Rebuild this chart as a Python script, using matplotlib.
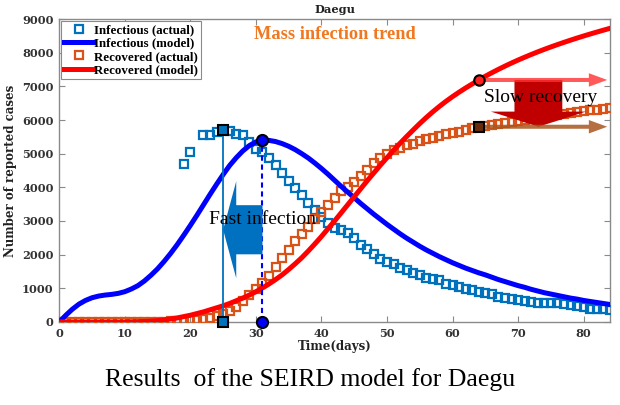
import matplotlib
matplotlib.use("Agg")
import matplotlib.pyplot as plt
import numpy as np
from matplotlib.patches import FancyArrow

# ---------------- data ----------------
days_model = list(range(0, 85))
infectious_model = [0, 200, 380, 530, 640, 720, 770, 800, 820, 850,
                    900, 980, 1080, 1220, 1390, 1580, 1800, 2040, 2300, 2580,
                    2870, 3170, 3480, 3790, 4090, 4380, 4650, 4880, 5080, 5240,
                    5350, 5400, 5395, 5360, 5300, 5220, 5120, 5000, 4870, 4720,
                    4560, 4390, 4210, 4030, 3860, 3690, 3520, 3360, 3200, 3050,
                    2900, 2760, 2620, 2490, 2370, 2250, 2140, 2040, 1940, 1850,
                    1760, 1680, 1600, 1530, 1460, 1400, 1330, 1260, 1200, 1140,
                    1080, 1030, 970, 920, 870, 830, 790, 750, 710, 680,
                    640, 610, 580, 550, 520]
recovered_model = [0, 0, 0, 0, 0, 0, 0, 0, 0, 0,
                   0, 5, 10, 15, 25, 40, 60, 90, 120, 160,
                   200, 250, 300, 360, 420, 480, 550, 630, 710, 800,
                   900, 1010, 1130, 1260, 1400, 1560, 1730, 1910, 2110, 2320,
                   2540, 2770, 3000, 3240, 3480, 3720, 3960, 4200, 4430, 4660,
                   4880, 5100, 5310, 5510, 5705, 5895, 6075, 6245, 6405, 6555,
                   6695, 6827, 6952, 7070, 7190, 7300, 7405, 7505, 7601, 7693,
                   7781, 7865, 7946, 8024, 8099, 8171, 8240, 8307, 8372, 8435,
                   8496, 8555, 8612, 8668, 8723]

days_inf_actual = [19, 20] + list(range(22, 85))
infectious_actual = [4680, 5060, 5540, 5550, 5650, 5700, 5660, 5590, 5550, 5360,
                     5130, 5060, 4860, 4660, 4440, 4200, 3980, 3760, 3540, 3330,
                     3120, 2930, 2780, 2720, 2630, 2480, 2290, 2180, 2030, 1860,
                     1780, 1730, 1600, 1540, 1460, 1390, 1320, 1290, 1240, 1140,
                     1090, 1040, 970, 940, 890, 850, 820, 750, 700, 670,
                     650, 620, 600, 550, 560, 550, 550, 530, 500, 470,
                     450, 400, 400, 400, 370]

days_rec_actual = list(range(0, 85))
recovered_actual = [0, 0, 0, 0, 0, 0, 0, 0, 0, 0,
                    0, 0, 0, 0, 0, 0, 0, 20, 30, 40,
                    50, 60, 80, 120, 170, 240, 330, 450, 620, 800,
                    980, 1150, 1380, 1620, 1900, 2150, 2400, 2620, 2820, 3050,
                    3280, 3480, 3680, 3880, 4020, 4160, 4330, 4510, 4720, 4880,
                    5000, 5100, 5180, 5250, 5300, 5370, 5430, 5470, 5520, 5570,
                    5610, 5650, 5700, 5750, 5800, 5830, 5860, 5890, 5920, 5950,
                    5980, 6010, 6040, 6070, 6100, 6130, 6160, 6190, 6210, 6240,
                    6260, 6290, 6310, 6330, 6350]

mark_day = 64
x_ticks = list(range(0, 81, 10))
y_ticks = list(range(0, 9001, 1000))

# ---------------- style ----------------
C_BLUE_ACT = "#0072BD"
C_ORANGE_ACT = "#D95319"
C_BLUE_MOD = "#0000FF"
C_RED_MOD = "#FF0000"
TICK_FONT = "DejaVu Serif"
TEXT_FONT = "Liberation Serif"

fig = plt.figure(figsize=(6.2, 4.05), dpi=100)
ax = fig.add_axes([0.0956, 0.205, 0.888, 0.748])

l1, = ax.plot(days_inf_actual, infectious_actual, ls="none", marker="s", ms=6.3,
              mfc="none", mec=C_BLUE_ACT, mew=1.6, label="Infectious (actual)", zorder=3)
l2, = ax.plot(days_model, infectious_model, color=C_BLUE_MOD, lw=3.6,
              label="Infectious (model)", zorder=4)
l3, = ax.plot(days_rec_actual, recovered_actual, ls="none", marker="s", ms=6.3,
              mfc="none", mec=C_ORANGE_ACT, mew=1.6, label="Recovered (actual)", zorder=3)
l4, = ax.plot(days_model, recovered_model, color=C_RED_MOD, lw=3.6,
              label="Recovered (model)", zorder=4)

# peak markers
ia = np.array(infectious_actual)
pk_a = int(np.argmax(ia))
pk_a_day, pk_a_val = days_inf_actual[pk_a], ia[pk_a]
im = np.array(infectious_model)
pk_m = int(np.argmax(im))
pk_m_day, pk_m_val = days_model[pk_m], im[pk_m]

ax.plot([pk_a_day, pk_a_day], [0, pk_a_val], color=C_BLUE_ACT, lw=1.3, zorder=5)
ax.plot([pk_m_day, pk_m_day], [0, pk_m_val], color=C_BLUE_MOD, lw=1.5,
        ls=(0, (2.5, 1.8)), zorder=5)
ax.plot([pk_a_day, pk_a_day], [pk_a_val, 0], ls="none", marker="s", ms=7,
        mfc=C_BLUE_ACT, mec="black", mew=1.5, zorder=8, clip_on=False)
ax.plot([pk_m_day, pk_m_day], [pk_m_val, 0], ls="none", marker="o", ms=8,
        mfc=C_BLUE_MOD, mec="black", mew=1.5, zorder=8, clip_on=False)

# fast infection arrow (left)
ymid = 2740
ax.add_patch(FancyArrow(pk_m_day, ymid, -(pk_m_day - pk_a_day), 0, width=1460,
                        head_width=2880, head_length=2.0, length_includes_head=True,
                        color="#0070C0", lw=0, zorder=6))
ax.text(pk_m_day, 3050, "Fast infection", family=TEXT_FONT, fontsize=14,
        ha="center", va="center", color="black", zorder=9)

# slow recovery arrows
rv = recovered_model[mark_day]
ra = recovered_actual[mark_day]
ax.add_patch(FancyArrow(73.1, 7190, 0, -(7190 - 5800), width=7.3, head_width=14.5,
                        head_length=450, length_includes_head=True,
                        color="#C00000", lw=0, zorder=6))
ax.add_patch(FancyArrow(mark_day + 0.5, rv, 83.6 - mark_day - 0.5, 0, width=120,
                        head_width=400, head_length=2.8, length_includes_head=True,
                        color="#FF3030", alpha=0.8, lw=0, zorder=7))
ax.add_patch(FancyArrow(mark_day + 0.5, ra, 83.6 - mark_day - 0.5, 0, width=120,
                        head_width=400, head_length=2.8, length_includes_head=True,
                        color="#A8561E", alpha=0.85, lw=0, zorder=7))
ax.plot([mark_day], [rv], ls="none", marker="o", ms=7.5, mfc="#FF2020", mec="black",
        mew=1.5, zorder=8)
ax.plot([mark_day], [ra], ls="none", marker="s", ms=6.5, mfc="#6A2C08", mec="black",
        mew=1.5, zorder=8)
ax.text(73.5, 6680, "Slow recovery", family=TEXT_FONT, fontsize=14,
        ha="center", va="center", color="black", zorder=9)

ax.text(42, 8530, "Mass infection trend", family=TEXT_FONT, fontsize=13.2,
        fontweight="bold", ha="center", va="center", color="#F07820", zorder=9)

# axes
ax.set_xlim(0, 84)
ax.set_ylim(0, 9000)
ax.set_xticks(x_ticks)
ax.set_yticks(y_ticks)
for s in ax.spines.values():
    s.set_color("#8a8a8a")
    s.set_linewidth(1.0)
ax.tick_params(direction="in", length=4, width=0.8, color="#8a8a8a",
               top=True, right=True, pad=4)
for lab in ax.get_xticklabels() + ax.get_yticklabels():
    lab.set_family(TICK_FONT)
    lab.set_fontweight("bold")
    lab.set_fontsize(8.2)
    lab.set_color("#333333")
ax.set_xlabel("Time(days)", family=TICK_FONT, fontweight="bold", fontsize=8.5,
              color="#222222", labelpad=1)
ax.set_ylabel("Number of reported cases", family=TICK_FONT, fontweight="bold",
              fontsize=8.5, color="#222222", labelpad=4)
ax.set_title("Daegu", family=TICK_FONT, fontweight="bold", fontsize=8.2,
             color="#222222", pad=4)

leg = ax.legend(handles=[l1, l2, l3, l4], loc="upper left", borderaxespad=0.15,
                prop={"family": TEXT_FONT, "weight": "bold", "size": 9.3},
                handlelength=2.2, handletextpad=0.1, labelspacing=0.1,
                borderpad=0.25, fancybox=False, framealpha=1, edgecolor="#8a8a8a")
leg.get_frame().set_linewidth(0.8)

fig.text(0.5, 1 - 380 / 405, "Results  of the SEIRD model for Daegu",
         family=TEXT_FONT, fontsize=18.5, ha="center", va="center", color="black")

fig.savefig("out.png", dpi=100)
